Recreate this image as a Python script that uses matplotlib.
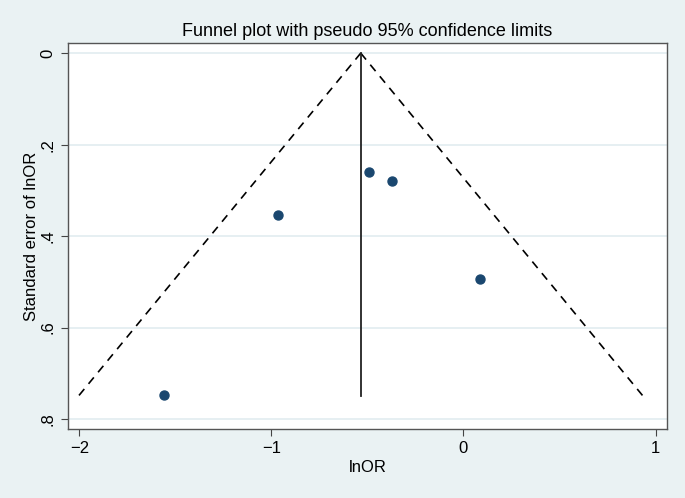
import numpy as np
import matplotlib.pyplot as plt

# study estimates
lnor = [-1.56, -0.968, -0.494, -0.371, 0.084]
se = [0.748, 0.354, 0.259, 0.279, 0.495]
pooled = -0.535
se_max = 0.75

xticks = [-2, -1, 0, 1]
xticklabels = ["\u22122", "\u22121", "0", "1"]
yticks = [0, 0.2, 0.4, 0.6, 0.8]
yticklabels = ["0", ".2", ".4", ".6", ".8"]

bg = "#eaf2f3"
plt.rcParams['font.family'] = ['Liberation Sans', 'DejaVu Sans']

fig = plt.figure(figsize=(6.85, 4.98), dpi=100, facecolor=bg)
ax = fig.add_axes([0.0988, 0.138, 0.875, 0.776])
ax.set_facecolor("white")

for t in yticks:
    ax.axhline(t, color="#e4eef1", lw=1.3, zorder=0)

s = np.array([0, se_max])
ax.plot(pooled - 1.96 * s, s, color="black", ls=(0, (5, 4)), lw=1.2)
ax.plot(pooled + 1.96 * s, s, color="black", ls=(0, (5, 4)), lw=1.2)
ax.plot([pooled, pooled], [0, se_max], color="#222222", lw=1.3)
ax.scatter(lnor, se, s=42, color="#1a476f", zorder=3)

ax.set_xlim(-2.061, 1.06)
ax.set_ylim(0.8225, -0.0225)
ax.set_xticks(xticks)
ax.set_xticklabels(xticklabels, fontsize=12)
ax.set_yticks(yticks)
ax.set_yticklabels(yticklabels, fontsize=12, rotation=90, va="center")
ax.tick_params(direction="out", length=5, color="#444444")
for sp in ax.spines.values():
    sp.set_color("#555555")
    sp.set_linewidth(1.0)

ax.set_xlabel("lnOR", fontsize=12, labelpad=3)
ax.set_ylabel("Standard error of lnOR", fontsize=12, labelpad=1)
ax.set_title("Funnel plot with pseudo 95% confidence limits", fontsize=13, pad=5)

fig.savefig("out.png", dpi=100, facecolor=bg)
